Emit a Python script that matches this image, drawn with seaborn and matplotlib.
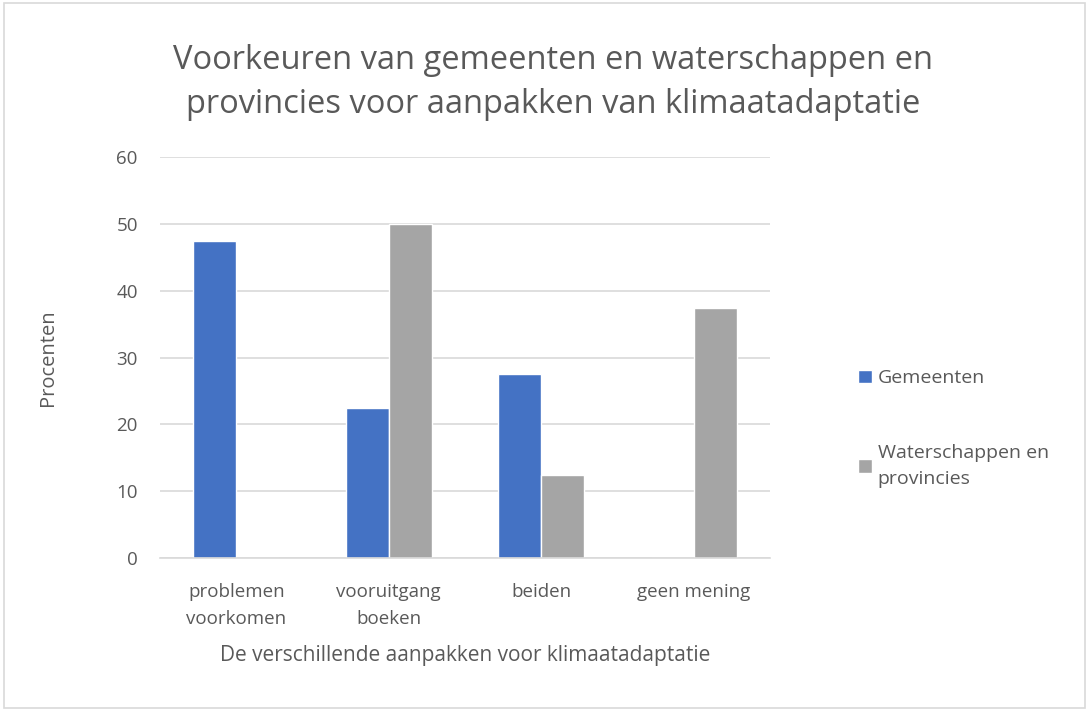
import matplotlib
matplotlib.use("Agg")
import matplotlib.pyplot as plt
import pandas as pd
import seaborn as sns
from matplotlib.patches import Rectangle

categories = ['problemen\nvoorkomen', 'vooruitgang\nboeken', 'beiden', 'geen mening']
gemeenten = [47.5, 22.5, 27.5, 0]
waterschappen = [0, 50, 12.5, 37.5]
series_names = ['Gemeenten', 'Waterschappen en provincies']
legend_labels = ['Gemeenten', 'Waterschappen en\nprovincies']
y_ticks = [0, 10, 20, 30, 40, 50, 60]

text_color = '#595959'
colors = ['#4472c4', '#a5a5a5']


def main():
    df = pd.DataFrame({
        'Aanpak': categories * 2,
        'Procenten': gemeenten + waterschappen,
        'Groep': [series_names[0]] * len(categories) + [series_names[1]] * len(categories),
    })

    sns.set_theme(style="white")
    plt.rcParams['font.family'] = ['Open Sans', 'DejaVu Sans']

    fig = plt.figure(figsize=(10.89, 7.11), dpi=100)
    ax = fig.add_axes([0.147, 0.215, 0.560, 0.564])

    sns.barplot(data=df, x='Aanpak', y='Procenten', hue='Groep', palette=colors,
                width=0.565, ax=ax, saturation=1, legend=True)

    ax.set_ylim(0, 60)
    ax.set_yticks(y_ticks)
    ax.yaxis.grid(True, color='#d9d9d9', linewidth=1.2)
    ax.set_axisbelow(True)
    for s in ['top', 'right', 'left']:
        ax.spines[s].set_visible(False)
    ax.spines['bottom'].set_color('#d9d9d9')
    ax.spines['bottom'].set_linewidth(1.2)
    ax.tick_params(axis='both', length=0, labelsize=13.5, colors=text_color)
    ax.tick_params(axis='x', pad=18)
    ax.tick_params(axis='y', pad=16)
    for lbl in ax.get_xticklabels():
        lbl.set_linespacing(1.65)

    ax.set_xlabel('De verschillende aanpakken voor klimaatadaptatie', fontsize=15,
                  color=text_color, labelpad=12)
    ax.set_ylabel('Procenten', fontsize=14.5, color=text_color, labelpad=42)

    fig.suptitle('Voorkeuren van gemeenten en waterschappen en\nprovincies voor aanpakken van klimaatadaptatie',
                 fontsize=23.5, color=text_color, x=0.508, y=0.938, va='top', linespacing=1.45)

    handles, _ = ax.get_legend_handles_labels()
    ax.get_legend().remove()
    leg = fig.legend(handles, legend_labels, loc='upper left', bbox_to_anchor=(0.772, 0.505),
                     frameon=False, fontsize=14, labelspacing=2.9, handlelength=0.7,
                     handleheight=0.7, handletextpad=0.3)
    for t in leg.get_texts():
        t.set_color(text_color)
        t.set_linespacing(1.6)
        t.set_verticalalignment('baseline')

    fig.patches.append(Rectangle((0.004, 0.004), 0.992, 0.992, transform=fig.transFigure,
                                 fill=False, edgecolor='#d9d9d9', linewidth=1.2))

    fig.savefig('out.png', dpi=100)


if __name__ == "__main__":
    main()
